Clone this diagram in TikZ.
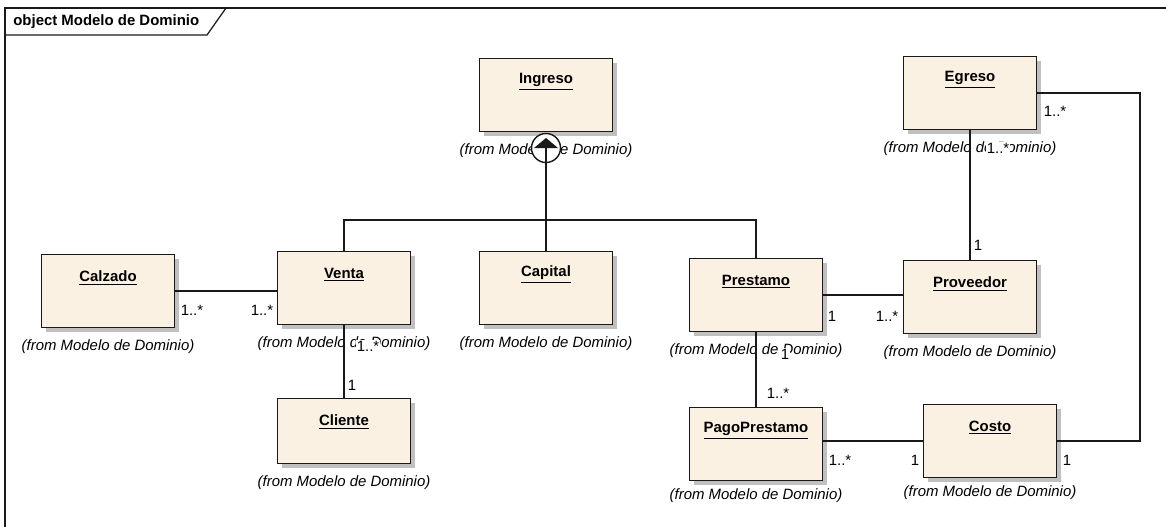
\documentclass[tikz,border=0pt]{standalone}
\usepackage{fontspec}
\setmainfont{Liberation Sans}
\usetikzlibrary{positioning, calc, shadows}
\definecolor{classcolor}{RGB}{251, 241, 227}
\definecolor{shadowcolor}{RGB}{192, 192, 192}
\definecolor{linecolor}{RGB}{25, 25, 25}

\begin{document}
\begin{tikzpicture}[
    x=0.02cm, y=-0.02cm,
    cls/.style={draw=linecolor, line width=0.9pt, fill=classcolor, minimum width=2.66cm, minimum height=1.46cm, inner sep=0pt,
        drop shadow={shadow xshift=2.6pt, shadow yshift=-2.6pt, fill=shadowcolor, opacity=1}},
    clsname/.style={font=\fontsize{8.5}{10}\selectfont\bfseries, inner sep=0pt},
    pkg/.style={font=\fontsize{8.5}{10}\selectfont\itshape, inner sep=0pt},
    mult/.style={font=\fontsize{8.5}{10}\selectfont, inner sep=0.6pt},
    assoc/.style={draw=linecolor, line width=0.75pt},
    frame/.style={draw=linecolor, line width=0.7pt}
]
    \useasboundingbox (0,0) rectangle (1166,527);

    % Frame
    \draw[frame] (5,527) -- (5,8) -- (1166,8);
    \draw[frame] (5,35) -- (207,35) -- (226,8);
    \node[clsname, anchor=west] (framename) at (13,22) {object Modelo de Dominio};

    % Classes
    \node[cls] (ingreso) at (546,95) {};
    \node[cls] (egreso) at (970,93) {};
    \node[cls] (calzado) at (108,291) {};
    \node[cls] (venta) at (344,288) {};
    \node[cls] (capital) at (546,288) {};
    \node[cls] (prestamo) at (756,295) {};
    \node[cls] (proveedor) at (970,297) {};
    \node[cls, minimum height=1.3cm] (cliente) at (344,431) {};
    \node[cls] (pago) at (756,444) {};
    \node[cls] (costo) at (990,441) {};

    % Class names
    \node[clsname] (ingreso-t) at ($(ingreso.north)+(0,24)$) {\underline{Ingreso}};
    \node[clsname] (egreso-t) at ($(egreso.north)+(0,24)$) {\underline{Egreso}};
    \node[clsname] (calzado-t) at ($(calzado.north)+(0,24)$) {\underline{Calzado}};
    \node[clsname] (venta-t) at ($(venta.north)+(0,24)$) {\underline{Venta}};
    \node[clsname] (capital-t) at ($(capital.north)+(0,24)$) {\underline{Capital}};
    \node[clsname] (prestamo-t) at ($(prestamo.north)+(0,24)$) {\underline{Prestamo}};
    \node[clsname] (proveedor-t) at ($(proveedor.north)+(0,24)$) {\underline{Proveedor}};
    \node[clsname] (cliente-t) at ($(cliente.north)+(0,24)$) {\underline{Cliente}};
    \node[clsname] (pago-t) at ($(pago.north)+(0,24)$) {\underline{PagoPrestamo}};
    \node[clsname] (costo-t) at ($(costo.north)+(0,24)$) {\underline{Costo}};

    % Packages
    \node[pkg, below=0.22cm of ingreso] (ingreso-p) {(from Modelo de Dominio)};
    \node[pkg, below=0.22cm of egreso] (egreso-p) {(from Modelo de Dominio)};
    \node[pkg, below=0.22cm of calzado] (calzado-p) {(from Modelo de Dominio)};
    \node[pkg, below=0.22cm of venta] (venta-p) {(from Modelo de Dominio)};
    \node[pkg, below=0.22cm of capital] (capital-p) {(from Modelo de Dominio)};
    \node[pkg, below=0.22cm of prestamo] (prestamo-p) {(from Modelo de Dominio)};
    \node[pkg, below=0.22cm of proveedor] (proveedor-p) {(from Modelo de Dominio)};
    \node[pkg, below=0.22cm of cliente] (cliente-p) {(from Modelo de Dominio)};
    \node[pkg, below=0.14cm of pago] (pago-p) {(from Modelo de Dominio)};
    \node[pkg, below=0.14cm of costo] (costo-p) {(from Modelo de Dominio)};

    % Generalization
    \coordinate (bus) at (546,220);
    \draw[assoc] (venta.north) |- (bus) -| (prestamo.north);
    \node[draw=linecolor, line width=0.8pt, fill=white, circle, minimum size=0.58cm, inner sep=0pt] (gen) at (546,148) {};
    \draw[assoc] (gen.center) -- (capital.north);
    \fill[linecolor] ($(gen)+(0,-10)$) -- ($(gen)+(-12,0)$) -- ($(gen)+(12,0)$) -- cycle;

    % Associations
    \draw[assoc] (calzado.east) -- (calzado.east -| venta.west);
    \draw[assoc] (venta.south) -- (cliente.north);
    \draw[assoc] (prestamo.east) -- (prestamo.east -| proveedor.west);
    \draw[assoc] (egreso.south) -- (proveedor.north);
    \draw[assoc] (prestamo.south) -- (pago.north);
    \draw[assoc] (pago.east |- costo.west) -- (costo.west);
    \coordinate (rail) at (1140,93);
    \draw[assoc] (egreso.east) -- (egreso.east -| rail) |- (costo.east);

    % Multiplicities
    \node[mult] (m1) at (192,310) {1..*};
    \node[mult] (m2) at (262,310) {1..*};
    \node[mult, fill=white] (m3) at (368,346) {1..*};
    \node[mult] (m4) at (352,385) {1};
    \node[mult] (m5) at (832,316) {1};
    \node[mult] (m6) at (887,316) {1..*};
    \node[mult, fill=white] (m7) at (785,354) {1};
    \node[mult] (m8) at (778,393) {1..*};
    \node[mult, fill=white] (m9) at (998,148) {1..*};
    \node[mult] (m10) at (978,245) {1};
    \node[mult] (m11) at (1055,111) {1..*};
    \node[mult] (m12) at (840,460) {1..*};
    \node[mult] (m13) at (915,460) {1};
    \node[mult] (m14) at (1067,460) {1};
\end{tikzpicture}
\end{document}
